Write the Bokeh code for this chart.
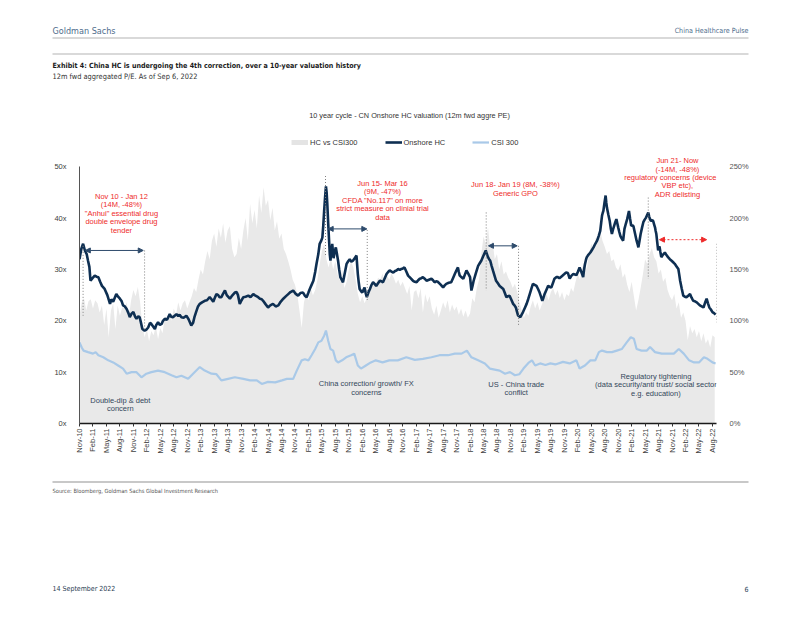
import math
from bokeh.plotting import figure
from bokeh.layouts import column
from bokeh.models import (Range1d, LinearAxis, FixedTicker, PrintfTickFormatter, Label,
                          Legend, LegendItem, Arrow, NormalHead)
from bokeh.embed import file_html
from bokeh.resources import INLINE

# ---------------- data ----------------
x_labels = ["Nov-10", "Feb-11", "May-11", "Aug-11", "Nov-11", "Feb-12", "May-12", "Aug-12",
            "Nov-12", "Feb-13", "May-13", "Aug-13", "Nov-13", "Feb-14", "May-14", "Aug-14",
            "Nov-14", "Feb-15", "May-15", "Aug-15", "Nov-15", "Feb-16", "May-16", "Aug-16",
            "Nov-16", "Feb-17", "May-17", "Aug-17", "Nov-17", "Feb-18", "May-18", "Aug-18",
            "Nov-18", "Feb-19", "May-19", "Aug-19", "Nov-19", "Feb-20", "May-20", "Aug-20",
            "Nov-20", "Feb-21", "May-21", "Aug-21", "Nov-21", "Feb-22", "May-22", "Aug-22"]

# Onshore HC 12m fwd P/E  (months since Nov-10, P/E)
hc_points = [
    (0.0, 32.0), (0.4, 34.0), (0.8, 35.0), (1.2, 33.7), (1.6, 33.0), (1.9, 31.7), (2.2, 30.5),
    (2.45, 27.8), (2.9, 28.3), (3.4, 28.8), (3.8, 28.6), (4.2, 28.5), (4.6, 27.6), (5.0, 26.8),
    (5.6, 26.2), (6.2, 25.0), (6.8, 23.3), (7.1, 24.2), (7.5, 23.7), (8.2, 25.2), (8.6, 24.7),
    (9.0, 24.3), (9.4, 23.8), (9.7, 23.0), (10.1, 22.8), (10.5, 22.3), (10.9, 21.5), (11.2, 20.7),
    (11.6, 21.4), (12.0, 21.7), (12.4, 20.8), (12.7, 20.4), (13.1, 20.9), (13.4, 20.7), (13.7, 19.6),
    (14.0, 18.4), (14.5, 18.1), (14.9, 18.3), (15.3, 18.7), (15.7, 19.6), (16.0, 19.4), (16.4, 18.9),
    (16.8, 18.4), (17.1, 19.2), (17.5, 19.7), (17.9, 19.2), (18.3, 19.4), (18.6, 20.0), (19.0, 20.4),
    (19.5, 20.2), (20.1, 21.3), (20.4, 20.8), (20.8, 20.7), (21.2, 21.0), (21.6, 21.3), (22.0, 20.9),
    (22.3, 21.2), (22.7, 20.7), (23.2, 20.6), (23.8, 21.0), (24.3, 20.3), (24.9, 19.1), (25.3, 19.6),
    (25.6, 20.7), (26.0, 21.8), (26.4, 22.8), (26.8, 23.3), (27.3, 23.6), (27.9, 23.9), (28.4, 24.0),
    (29.0, 24.6), (29.4, 24.2), (29.8, 23.7), (30.1, 24.4), (30.5, 25.2), (30.9, 25.0), (31.2, 24.6),
    (31.6, 24.6), (32.0, 25.3), (32.4, 25.9), (32.8, 25.0), (33.2, 24.6), (33.5, 24.3), (33.9, 24.8),
    (34.3, 25.2), (34.6, 25.5), (35.0, 25.6), (35.3, 25.0), (35.7, 23.3), (36.1, 24.0), (36.5, 24.6),
    (37.0, 24.7), (37.6, 24.9), (38.1, 24.6), (38.7, 25.2), (39.0, 25.0), (39.4, 24.8), (39.8, 24.6),
    (40.2, 24.3), (40.6, 24.2), (40.9, 23.9), (41.4, 23.3), (42.0, 22.6), (42.5, 23.0), (43.1, 23.3),
    (43.7, 22.8), (44.3, 23.0), (44.8, 23.7), (45.4, 24.3), (46.0, 24.8), (46.5, 25.2), (47.0, 25.6),
    (47.6, 25.9), (48.1, 25.3), (48.7, 24.9), (49.2, 25.4), (49.8, 25.5), (50.2, 24.9), (50.6, 24.6),
    (51.0, 25.5), (51.3, 26.2), (51.7, 27.0), (52.1, 27.8), (52.5, 29.5), (52.8, 31.1), (53.2, 33.0),
    (53.5, 35.0), (53.8, 35.5), (54.1, 36.2), (54.3, 38.5), (54.5, 41.4), (54.7, 44.0), (54.9, 46.2),
    (55.05, 45.0), (55.2, 42.8), (55.4, 39.0), (55.6, 35.6), (55.75, 33.0), (55.9, 31.7), (56.1, 33.5),
    (56.3, 35.0), (56.45, 33.5), (56.6, 32.2), (56.85, 33.5), (57.1, 34.3), (57.35, 33.0), (57.6, 31.7),
    (57.85, 30.0), (58.1, 28.5), (58.4, 28.0), (58.7, 27.5), (59.1, 29.3), (59.5, 31.1), (59.85, 31.6),
    (60.2, 32.0), (60.55, 31.5), (60.9, 31.7), (61.3, 32.2), (61.7, 32.7), (62.0, 29.1), (62.2, 27.5),
    (62.4, 26.2), (62.7, 25.8), (63.0, 25.5), (63.25, 26.0), (63.5, 26.5), (63.75, 25.4), (64.0, 24.6),
    (64.35, 25.5), (64.7, 26.2), (65.05, 27.0), (65.4, 27.5), (65.75, 27.2), (66.1, 26.8), (66.5, 27.3),
    (66.9, 27.8), (67.25, 27.7), (67.6, 27.5), (68.0, 28.3), (68.4, 29.1), (68.75, 29.5), (69.1, 29.8),
    (69.5, 29.6), (69.9, 29.4), (70.3, 29.7), (70.6, 29.8), (71.0, 30.1), (71.35, 29.9), (71.7, 30.1),
    (72.05, 30.2), (72.4, 30.4), (72.8, 29.6), (73.2, 28.8), (73.75, 28.3), (74.3, 27.8), (74.7, 27.6),
    (75.1, 27.5), (75.45, 27.9), (75.8, 28.2), (76.15, 28.3), (76.5, 28.5), (76.9, 28.2), (77.3, 27.8),
    (77.85, 28.0), (78.4, 28.2), (78.75, 27.9), (79.1, 27.5), (79.45, 27.7), (79.8, 27.6), (80.4, 27.1),
    (81.0, 26.5), (81.35, 26.9), (81.7, 27.2), (82.25, 27.4), (82.8, 27.5), (83.2, 28.3), (83.6, 29.1),
    (83.95, 29.8), (84.3, 30.4), (84.5, 29.5), (84.7, 28.8), (85.1, 28.5), (85.5, 28.2), (85.85, 29.0),
    (86.2, 29.8), (86.6, 29.2), (87.0, 28.5), (87.3, 25.9), (87.55, 26.8), (87.8, 27.8), (88.3, 29.3),
    (88.8, 30.7), (89.15, 31.2), (89.5, 31.7), (90.0, 32.7), (90.25, 33.2), (90.5, 33.7), (90.75, 33.0),
    (91.0, 32.4), (91.25, 32.0), (91.5, 31.7), (91.8, 30.7), (92.1, 29.8), (92.45, 28.8), (92.8, 27.8),
    (93.2, 27.3), (93.6, 26.8), (94.0, 26.5), (94.4, 26.2), (94.75, 25.4), (95.1, 24.6), (95.45, 24.8),
    (95.8, 24.9), (96.2, 24.1), (96.6, 23.3), (96.9, 23.0), (97.2, 22.6), (97.45, 21.8), (97.7, 21.0),
    (97.95, 20.9), (98.2, 20.7), (98.5, 21.2), (98.8, 21.7), (99.2, 22.5), (99.6, 23.3), (99.95, 24.2),
    (100.3, 25.2), (100.65, 26.2), (101.0, 27.2), (101.4, 27.0), (101.8, 26.8), (102.15, 26.2),
    (102.5, 25.5), (102.8, 24.7), (103.1, 23.9), (103.35, 24.5), (103.6, 25.2), (104.0, 26.0),
    (104.4, 26.8), (104.75, 26.6), (105.1, 26.5), (105.45, 27.3), (105.8, 28.2), (106.2, 28.5),
    (106.6, 28.5), (106.9, 28.3), (107.45, 28.7), (108.0, 29.1), (108.4, 29.4), (108.8, 29.3),
    (109.2, 28.2), (109.6, 28.8), (110.0, 29.1), (110.35, 29.0), (110.7, 28.9), (111.05, 29.6),
    (111.4, 30.4), (111.8, 29.5), (112.2, 28.5), (112.4, 30.0), (112.6, 31.0), (112.8, 31.8),
    (113.0, 32.4), (113.4, 32.9), (113.8, 33.3), (114.15, 33.8), (114.5, 34.3), (114.9, 35.0),
    (115.3, 35.6), (115.65, 36.5), (116.0, 37.5), (116.2, 39.0), (116.4, 40.5), (116.55, 41.0),
    (116.7, 41.4), (116.95, 43.0), (117.2, 44.4), (117.35, 43.0), (117.5, 42.0), (117.8, 40.7),
    (118.1, 39.5), (118.35, 38.0), (118.6, 36.9), (118.85, 37.8), (119.1, 38.5), (119.35, 39.2),
    (119.6, 39.8), (119.8, 39.0), (120.0, 38.2), (120.25, 37.3), (120.5, 36.5), (120.8, 36.0),
    (121.1, 35.6), (121.25, 36.8), (121.4, 37.9), (121.7, 38.9), (122.0, 39.8), (122.2, 40.6),
    (122.4, 41.4), (122.65, 39.9), (122.9, 38.5), (123.15, 38.6), (123.4, 38.4), (123.75, 37.0),
    (124.1, 35.6), (124.3, 35.0), (124.5, 34.3), (124.75, 35.6), (125.0, 36.9), (125.3, 38.1),
    (125.6, 39.2), (125.9, 39.7), (126.2, 40.1), (126.45, 40.6), (126.7, 41.1), (126.9, 40.3),
    (127.1, 39.8), (127.25, 39.5), (127.4, 39.5), (127.6, 39.6), (127.8, 39.4), (128.0, 38.8),
    (128.2, 38.2), (128.35, 37.5), (128.5, 36.9), (128.7, 35.3), (128.9, 33.7), (129.05, 34.2),
    (129.2, 34.5), (129.4, 33.4), (129.6, 32.4), (130.0, 32.9), (130.4, 33.3), (130.75, 32.8),
    (131.1, 32.4), (131.5, 32.0), (131.9, 31.7), (132.25, 31.4), (132.6, 31.1), (133.0, 30.6),
    (133.4, 30.1), (133.6, 29.0), (133.8, 27.8), (134.15, 26.3), (134.5, 24.9), (134.85, 24.7),
    (135.2, 24.6), (135.6, 24.9), (136.0, 25.2), (136.35, 24.5), (136.7, 23.9), (137.1, 23.8),
    (137.5, 23.6), (137.85, 23.3), (138.2, 23.0), (138.6, 22.8), (139.0, 22.6), (139.35, 23.5),
    (139.7, 24.3), (140.0, 23.4), (140.3, 22.6), (140.65, 22.2), (141.0, 21.7), (141.35, 21.5),
    (141.7, 21.2)]

# CSI 300 12m fwd P/E  (months since Nov-10, P/E)
csi_points = [
    (0.0, 15.8), (0.5, 14.8), (0.9, 14.2), (1.9, 13.9), (3.0, 13.6), (3.6, 13.9), (4.2, 13.3),
    (5.3, 12.9), (6.4, 12.3), (7.5, 11.9), (8.6, 11.3), (9.7, 10.7), (10.5, 9.7), (11.6, 10.0),
    (12.7, 10.0), (13.8, 9.0), (14.9, 9.7), (16.0, 10.0), (17.5, 10.3), (19.0, 10.0), (20.5, 9.4),
    (21.6, 9.0), (22.7, 9.3), (24.2, 8.7), (25.3, 9.7), (26.8, 11.0), (27.9, 10.3), (29.4, 9.7),
    (30.5, 9.6), (31.6, 8.4), (33.1, 8.7), (34.6, 9.0), (36.5, 8.7), (38.0, 8.4), (39.5, 8.4),
    (40.6, 7.7), (42.0, 8.1), (43.6, 8.0), (45.1, 8.4), (46.2, 8.7), (47.6, 8.7), (48.4, 10.3),
    (49.5, 12.3), (50.2, 12.5), (51.0, 12.3), (51.7, 13.3), (52.5, 14.5), (53.2, 15.8), (53.9, 16.1),
    (54.5, 17.1), (54.9, 18.1), (55.4, 16.1), (55.9, 14.5), (56.5, 14.2), (57.1, 12.3), (57.6, 11.9),
    (58.5, 12.3), (59.4, 12.9), (60.5, 13.3), (61.2, 13.6), (62.0, 11.3), (62.7, 10.7), (63.8, 11.3),
    (64.9, 11.9), (66.0, 12.3), (67.5, 11.9), (69.0, 12.3), (70.9, 12.3), (72.8, 12.9), (74.7, 12.4),
    (76.5, 12.6), (78.4, 12.9), (80.2, 13.3), (82.1, 13.3), (83.6, 13.6), (85.1, 13.6), (86.3, 14.2),
    (87.3, 12.9), (88.8, 12.3), (90.3, 11.7), (91.4, 10.7), (92.5, 10.5), (93.6, 10.3), (94.8, 9.7),
    (95.9, 10.0), (97.0, 9.4), (98.0, 9.6), (98.9, 10.7), (100.0, 11.8), (100.8, 12.3), (101.5, 11.3),
    (102.6, 11.7), (103.8, 11.4), (104.9, 11.7), (106.0, 11.5), (107.7, 12.0), (109.2, 11.7),
    (110.7, 12.3), (111.4, 10.7), (112.6, 11.3), (113.8, 12.3), (114.9, 12.3), (115.7, 13.9),
    (116.4, 14.2), (117.5, 13.9), (118.6, 13.9), (119.7, 14.2), (120.8, 14.5), (121.9, 15.8),
    (122.8, 16.8), (123.5, 16.5), (124.1, 14.5), (125.2, 14.2), (126.4, 14.2), (127.1, 14.9),
    (128.2, 13.9), (129.7, 13.6), (131.2, 13.6), (132.4, 13.6), (133.5, 14.5), (134.6, 13.6),
    (135.8, 12.3), (136.9, 11.9), (138.0, 11.9), (139.1, 12.9), (139.9, 12.6), (141.0, 11.9),
    (141.7, 11.7)]

# HC vs CSI300 premium (%), one reading every half month from Nov-10
hc_vs_csi = [
    105, 118, 122, 110, 119, 121, 112, 120, 117, 108,
    115, 96, 112, 84, 110, 117, 92, 115, 105, 113,
    112, 118, 104, 120, 130, 124, 133, 118, 96, 84,
    92, 80, 90, 86, 95, 82, 93, 88, 104, 98,
    108, 100, 112, 106, 118, 110, 117, 120, 112, 118,
    124, 132, 128, 140, 150, 145, 158, 168, 160, 178,
    185, 172, 190, 181, 195, 176, 188, 192, 170, 162,
    165, 181, 170, 188, 200, 178, 214, 195, 208, 190,
    222, 205, 230, 212, 218, 198, 210, 188, 197, 180,
    185, 170, 165, 158, 150, 140, 135, 126, 110, 93,
    118, 126, 120, 132, 125, 130, 140, 155, 168, 175,
    160, 152, 162, 150, 158, 145, 140, 150, 132, 138,
    150, 158, 152, 140, 126, 118, 124, 117, 122, 128,
    132, 138, 135, 142, 140, 146, 138, 144, 140, 146,
    142, 136, 140, 134, 138, 132, 126, 134, 110, 128,
    130, 122, 132, 108, 126, 118, 124, 112, 106, 115,
    103, 110, 118, 112, 120, 108, 116, 110, 114, 106,
    112, 104, 110, 103, 107, 122, 118, 132, 140, 165,
    182, 175, 191, 170, 178, 160, 165, 150, 158, 145,
    148, 142, 138, 132, 136, 128, 118, 110, 103, 108,
    105, 114, 120, 112, 118, 110, 116, 122, 126, 120,
    128, 132, 125, 130, 122, 128, 120, 126, 124, 132,
    128, 138, 146, 140, 152, 158, 150, 165, 175, 170,
    181, 176, 188, 178, 172, 165, 168, 158, 160, 152,
    149, 155, 142, 146, 135, 128, 138, 124, 110, 120,
    132, 145, 160, 155, 165, 171, 162, 158, 146, 150,
    138, 142, 130, 124, 120, 126, 112, 118, 103, 108,
    100, 81, 95, 88, 92, 84, 90, 80, 88, 78,
    82, 74, 86, 84]

hc_month, hc_pe = zip(*hc_points)
csi_month, csi_pe = zip(*csi_points)
prem_month = [0.5 * i for i in range(len(hc_vs_csi))]

# ---------------- styling ----------------
ARIAL = "Liberation Sans"
NARROW = "'Liberation Sans Narrow', 'DejaVu Sans Condensed', sans-serif"
NAVY = "#0E2F52"
LIGHT = "#A9C9E8"
GREY_AREA = "#E9E9E9"
RED = "#EE2B2B"
SLATE = "#33475B"
DOT = "#7F7F7F"
HEAD_BLUE = "#4E6D8C"

W = 802
HEAD_H = 156          # page rows 0..156
CHART_H = 314         # page rows 156..470
FOOT_H = 150          # page rows 470..620
FL, FW, FH = 79, 637, 267


def no_align(f):
    try:
        f.frame_align = False
    except Exception:
        pass


def blank(height, top):
    f = figure(width=W, height=height, output_backend="svg", toolbar_location=None,
               x_range=Range1d(0, W), y_range=Range1d(top + height, top),
               min_border=0, outline_line_color=None, x_axis_type=None, y_axis_type=None,
               background_fill_color="white", border_fill_color="white")
    f.xgrid.visible = False
    f.ygrid.visible = False
    no_align(f)
    return f


def page_text(f, x, y, s, size, color, font=NARROW, align="left", style="normal"):
    f.add_layout(Label(x=x, y=y, text=s, text_align=align, text_baseline="middle",
                       text_font=font, text_font_size=size, text_color=color,
                       text_font_style=style))


# ---------------- header ----------------
hd = blank(HEAD_H, 0)
page_text(hd, 52, 30, "Goldman Sachs", "9px", HEAD_BLUE)
page_text(hd, 748, 30, "China Healthcare Pulse", "7.1px", HEAD_BLUE, align="right")
hd.segment(x0=[52, 52], y0=[37.5, 53.5], x1=[748, 748], y1=[37.5, 53.5],
           line_color="#B4B4B4", line_width=1.2)
page_text(hd, 52, 65, "Exhibit 4: China HC is undergoing the 4th correction, over a 10-year valuation history",
          "7.1px", "#1A1A1A", style="bold")
page_text(hd, 52, 76, "12m fwd aggregated P/E. As of Sep 6, 2022", "7.4px", "#333333")
page_text(hd, 409, 115, "10 year cycle - CN Onshore HC valuation (12m fwd aggre PE)", "7.3px",
          "#333333", font=ARIAL, align="center")

lg_area = hd.line([-50, -40], [-50, -50], line_color="#E4E4E4", line_width=5)
lg_hc = hd.line([-50, -40], [-50, -50], line_color=NAVY, line_width=2.6)
lg_csi = hd.line([-50, -40], [-50, -50], line_color=LIGHT, line_width=2.2)
legend = Legend(items=[LegendItem(label="HC vs CSI300", renderers=[lg_area]),
                       LegendItem(label="Onshore HC", renderers=[lg_hc]),
                       LegendItem(label="CSI 300", renderers=[lg_csi])],
                orientation="horizontal", location=(291, 9),
                label_text_font=ARIAL, label_text_font_size="7.5px",
                label_text_color="#333333", glyph_width=17, glyph_height=10,
                label_standoff=2, spacing=27, padding=0, margin=0,
                border_line_color=None, background_fill_alpha=0)
hd.add_layout(legend, "center")

# ---------------- chart ----------------
p = figure(width=W, height=CHART_H, output_backend="svg", toolbar_location=None,
           x_range=Range1d(0, 141.9), y_range=Range1d(0, 52),
           min_border_left=FL, min_border_right=W - FL - FW,
           min_border_top=0, min_border_bottom=CHART_H - FH,
           outline_line_color=None, background_fill_color="white",
           border_fill_color="white")
no_align(p)
p.extra_y_ranges = {"pct": Range1d(0, 260)}
p.xgrid.visible = False
p.ygrid.visible = False

xa = p.xaxis[0]
ticks = [3 * i for i in range(len(x_labels))]
xa.ticker = FixedTicker(ticks=ticks)
xa.major_label_overrides = {t: lab for t, lab in zip(ticks, x_labels)}
xa.major_label_orientation = math.pi / 2
xa.major_label_text_font = ARIAL
xa.major_label_text_font_size = "7.5px"
xa.major_label_text_color = "#404040"
xa.axis_line_color = "#1a1a1a"
xa.axis_line_width = 1.5
xa.major_tick_line_color = "#333333"
xa.major_tick_in = 0
xa.major_tick_out = 3
xa.minor_tick_line_color = None
xa.major_label_standoff = 2

ya = p.yaxis[0]
ya.ticker = FixedTicker(ticks=[0, 10, 20, 30, 40, 50])
ya.bounds = (0, 50)
ya.formatter = PrintfTickFormatter(format="%dx")
ya.major_label_text_font = ARIAL
ya.major_label_text_font_size = "7.5px"
ya.major_label_text_color = "#404040"
ya.axis_line_color = "#555555"
ya.major_tick_line_color = None
ya.minor_tick_line_color = None
ya.major_label_standoff = 7

ra = LinearAxis(y_range_name="pct", ticker=FixedTicker(ticks=[0, 50, 100, 150, 200, 250]),
                formatter=PrintfTickFormatter(format="%d%%"))
ra.major_label_text_font = ARIAL
ra.major_label_text_font_size = "7.5px"
ra.major_label_text_color = "#555555"
ra.axis_line_color = None
ra.major_tick_line_color = None
ra.minor_tick_line_color = None
ra.major_label_standoff = 7
p.add_layout(ra, "right")

p.varea(x=prem_month, y1=0, y2=hc_vs_csi, y_range_name="pct", fill_color=GREY_AREA)
p.line(csi_month, csi_pe, line_color=LIGHT, line_width=2.2)
p.line(hc_month, hc_pe, line_color=NAVY, line_width=2.6)

# event markers: dotted verticals (month, top, bottom)
event_lines = [(0.8, 34.6, 21.0), (14.5, 33.7, 18.1),
               (54.8, 48.2, 32.7), (64.1, 37.7, 23.9),
               (90.6, 41.1, 25.9), (97.8, 34.6, 19.1),
               (126.7, 44.0, 28.2), (141.9, 35.0, 19.7)]
p.segment(x0=[e[0] for e in event_lines], y0=[e[1] for e in event_lines],
          x1=[e[0] for e in event_lines], y1=[e[2] for e in event_lines],
          line_color=DOT, line_width=1, line_dash="1 2")

event_arrows = [(1.3, 14.2, 33.7, "#2D4A6B", "solid"),
                (55.4, 64.0, 37.9, "#2D4A6B", "solid"),
                (91.1, 97.5, 34.6, "#2D4A6B", "solid"),
                (129.2, 139.7, 35.8, RED, "2 2")]
for x0, x1, yv, col, dash in event_arrows:
    p.add_layout(Arrow(x_start=x0, y_start=yv, x_end=x1, y_end=yv,
                       line_color=col, line_width=1, line_dash=dash,
                       start=NormalHead(size=5, fill_color=col, line_color=col),
                       end=NormalHead(size=5, fill_color=col, line_color=col)))


def block(xm, yv, lines, color, size="7.5px", step=8.4, first=0):
    for i, s in enumerate(lines):
        p.add_layout(Label(x=xm, y=yv, y_offset=-step * (i + first), text=s,
                           text_align="center", text_baseline="middle", text_font=ARIAL,
                           text_font_size=size, text_color=color))


block(9.35, 44.2, ["Nov 10 - Jan 12", "(14M, -48%)", "\"Anhui\" essential drug",
                   "double envelope drug", "tender"], RED)
block(67.5, 46.75, ["Jun 15- Mar 16", "(9M, -47%)", "CFDA \"No.117\" on more",
                    "strict measure on clinial trial", "data"], RED)
block(97.1, 46.5, ["Jun 18- Jan 19 (8M, -38%)", "Generic GPO"], RED)
block(133.2, 51.2, ["Jun 21- Now", "(-14M, -48%)"], RED)
block(131.6, 51.2, ["regulatory concerns (device"], RED, first=2)
block(133.2, 51.2, ["VBP etc),", "ADR delisting"], RED, first=3)
block(9.1, 4.47, ["Double-dip & debt", "concern"], SLATE)
block(63.9, 7.72, ["China correction/ growth/ FX", "concerns"], SLATE)
block(97.3, 7.6, ["US - China trade", "conflict"], SLATE)
block(128.4, 9.14, ["Regulatory tightening", "(data security/anti trust/ social sector",
                    "e.g. education)"], SLATE)

# ---------------- footer ----------------
ft = blank(FOOT_H, 470)
ft.segment(x0=[52], y0=[481.5], x1=[748], y1=[481.5], line_color="#C8C8C8", line_width=2)
page_text(ft, 52, 490, "Source: Bloomberg, Goldman Sachs Global Investment Research", "5.7px", "#555555")
page_text(ft, 52, 588, "14 September 2022", "7px", "#2B3E55")
page_text(ft, 748, 588, "6", "7px", "#2B3E55", align="right")

page = column(hd, p, ft, spacing=0)
open("out.html", "w").write(file_html(page, INLINE))
